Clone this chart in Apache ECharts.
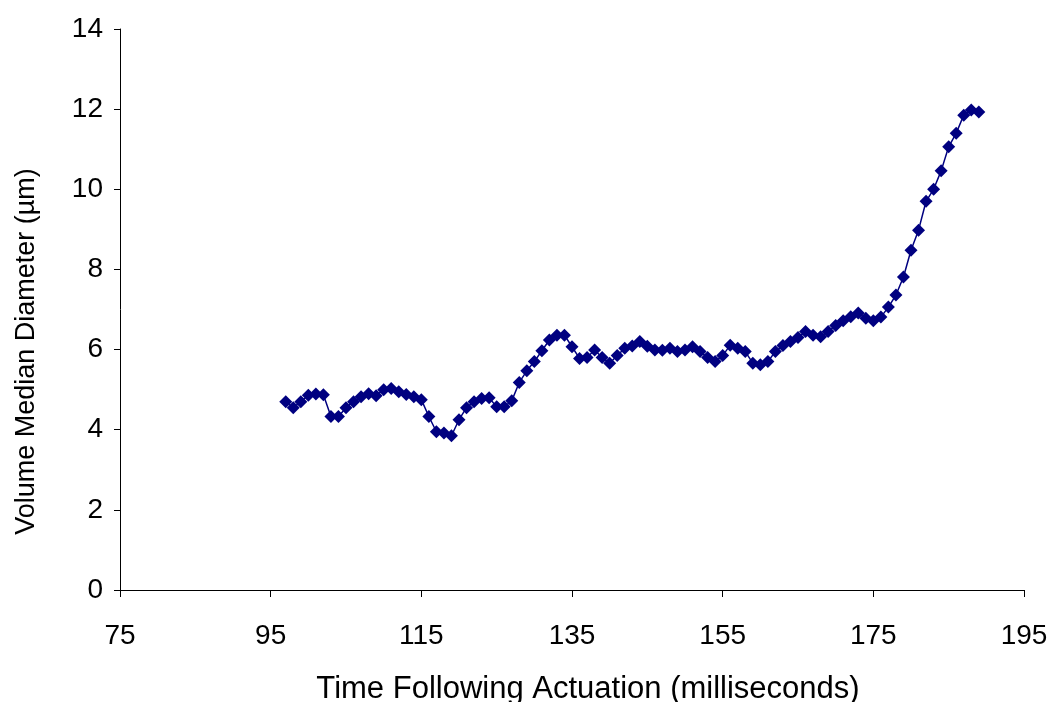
<!DOCTYPE html>
<html>
<head>
<meta charset="utf-8">
<script src="https://cdn.jsdelivr.net/npm/echarts@6/dist/echarts.min.js"></script>
<style>
  html, body { margin: 0; padding: 0; background: #fff; }
  #chart { width: 1049px; height: 702px; }
</style>
</head>
<body>
<div id="chart"></div>
<script>
// time after actuation (ms), one reading per ms
const times = [
  97, 98, 99, 100, 101, 102, 103, 104, 105, 106, 107, 108, 109, 110, 111, 112, 113, 114, 115, 116,
  117, 118, 119, 120, 121, 122, 123, 124, 125, 126, 127, 128, 129, 130, 131, 132, 133, 134, 135, 136,
  137, 138, 139, 140, 141, 142, 143, 144, 145, 146, 147, 148, 149, 150, 151, 152, 153, 154, 155, 156,
  157, 158, 159, 160, 161, 162, 163, 164, 165, 166, 167, 168, 169, 170, 171, 172, 173, 174, 175, 176,
  177, 178, 179, 180, 181, 182, 183, 184, 185, 186, 187, 188, 189
]
// volume median diameter (um)
const vmd = [
  4.70, 4.55, 4.70, 4.86, 4.89, 4.87, 4.33, 4.33, 4.55, 4.70, 4.82, 4.90, 4.85, 5.00, 5.03, 4.95, 4.88, 4.82, 4.75, 4.33,
  3.95, 3.92, 3.85, 4.25, 4.55, 4.70, 4.78, 4.80, 4.57, 4.57, 4.72, 5.18, 5.47, 5.70, 5.97, 6.24, 6.36, 6.36, 6.07, 5.78,
  5.80, 5.99, 5.80, 5.66, 5.85, 6.03, 6.09, 6.20, 6.08, 5.99, 5.98, 6.03, 5.95, 5.99, 6.07, 5.95, 5.80, 5.70, 5.85, 6.11,
  6.03, 5.95, 5.66, 5.62, 5.70, 5.95, 6.10, 6.20, 6.30, 6.45, 6.36, 6.32, 6.45, 6.60, 6.72, 6.82, 6.91, 6.78, 6.72, 6.81,
  7.06, 7.36, 7.81, 8.48, 8.98, 9.70, 10.00, 10.46, 11.06, 11.40, 11.85, 11.98, 11.93
]

const xTitle = 'Time Following Actuation (milliseconds)'
const yTitle = 'Volume Median Diameter (µm)'

const font = 'Liberation Sans, Arial, sans-serif'
const navy = '#000080'

const chart = echarts.init(document.getElementById('chart'))

const points = times.map((t, i) => [t, vmd[i]])

const option = {
  animation: false,
  backgroundColor: '#fff',
  grid: {
    left: 120,
    right: 25,
    top: 29,
    bottom: 112,
    containLabel: false,
    outerBoundsMode: 'none'
  },
  xAxis: {
    type: 'value',
    min: 75,
    max: 195,
    interval: 20,
    name: xTitle,
    nameLocation: 'middle',
    nameGap: 84,
    nameTextStyle: { fontFamily: font, fontSize: 31, color: '#000', padding: [0, 0, 0, 32] },
    axisLine: { show: true, onZero: false, lineStyle: { color: '#000', width: 1 } },
    axisTick: { show: true, length: 7, lineStyle: { color: '#000' } },
    axisLabel: { fontFamily: font, fontSize: 28, color: '#000', margin: 32 },
    splitLine: { show: false }
  },
  yAxis: {
    type: 'value',
    min: 0,
    max: 14,
    interval: 2,
    name: yTitle,
    nameLocation: 'middle',
    nameRotate: 90,
    nameGap: 80,
    nameTextStyle: { fontFamily: font, fontSize: 27, color: '#000', padding: [0, 84, 0, 0] },
    axisLine: { show: true, lineStyle: { color: '#000', width: 1 } },
    axisTick: { show: true, length: 6, lineStyle: { color: '#000' } },
    axisLabel: { fontFamily: font, fontSize: 28, color: '#000', margin: 17 },
    splitLine: { show: false }
  },
  series: [
    {
      type: 'line',
      data: points,
      symbol: 'diamond',
      symbolSize: 13,
      showAllSymbol: true,
      itemStyle: { color: navy },
      lineStyle: { color: navy, width: 1.5 }
    }
  ]
}

chart.setOption(option)
</script>
</body>
</html>
